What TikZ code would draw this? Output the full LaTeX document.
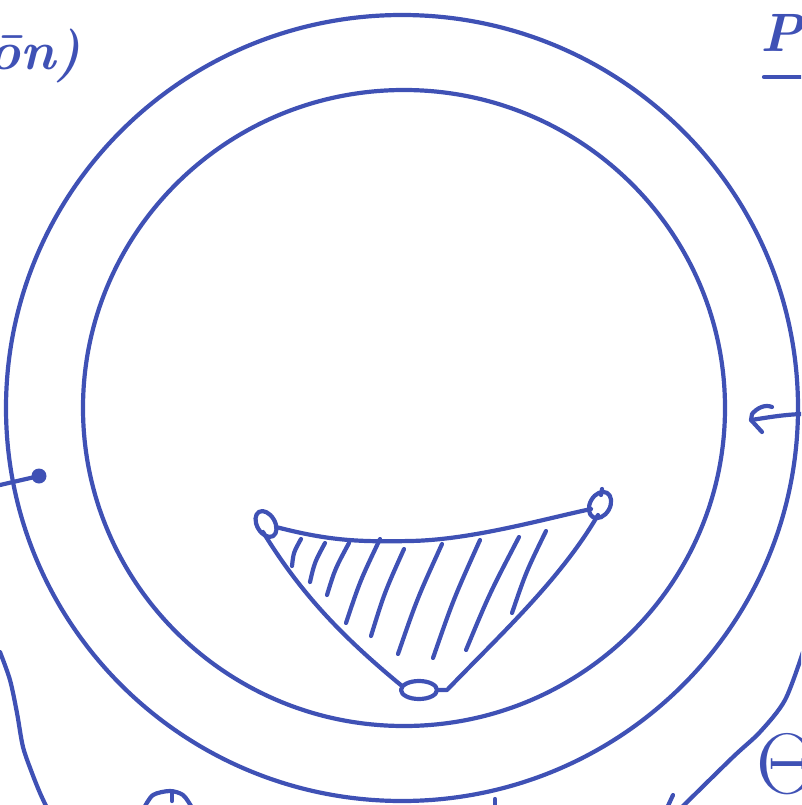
\documentclass[tikz,border=0pt]{standalone}
\definecolor{ink}{RGB}{63,81,181}
\begin{document}
\begin{tikzpicture}[x=1pt,y=-1pt,
  pen/.style={draw=ink, line width=4.2pt, line cap=round, line join=round},
  hand/.style={text=ink, inner sep=0pt, font=\bfseries\itshape\fontsize{54}{60}\selectfont}]
\useasboundingbox (0,0) rectangle (801,805);
\clip (0,0) rectangle (801,805);
% rings
\draw[pen] (402,408) ellipse [x radius=396, y radius=393];
\draw[pen] (404,408) ellipse [x radius=321, y radius=318];
% shaded region
\coordinate (L) at (266,524);
\coordinate (R) at (600,505);
\coordinate (B) at (419,690);
\draw[pen] (L) ellipse [x radius=9, y radius=14, rotate=30];
\draw[pen] (R) ellipse [x radius=10, y radius=14, rotate=-30];
\draw[pen] (B) ellipse [x radius=18, y radius=9];
\draw[pen] (276,527) .. controls (330,541) and (360,542) .. (410,541)
  .. controls (470,540) and (540,520) .. (591,509);
\draw[pen] (263,532) .. controls (300,592) and (340,635) .. (402,686);
\draw[pen] (598,515) .. controls (560,580) and (500,635) .. (447,690) -- (437,690);
\draw[pen] (602,489) -- (601,495);
\foreach \a/\b/\c/\d in {301/539/292/566, 325/543/310/582, 349/543/327/595,
  380/539/346/623, 404/549/371/636, 442/544/398/654, 480/540/433/658,
  519/537/466/650, 546/531/512/613}
  \draw[pen] (\a,\b) .. controls ({(\a+\c)/2-3},{(\b+\d)/2}) .. (\c,\d);
% right arrow
\coordinate (ar) at (801,414);
\coordinate (at) at (751,420);
\draw[pen] (ar) .. controls (780,415) and (765,418) .. (at);
\draw[pen] (772,407) .. controls (765,404) and (757,408) .. (752,414) -- (at) -- (762,432);
% left dot
\coordinate (dot) at (39,476);
\fill[ink] (dot) circle (7.5);
\draw[pen] (dot) -- (0,485);
% bottom left curve
\draw[pen] plot[smooth] coordinates {(0,652) (10,680) (17,713) (23,747) (32,773) (40,793) (47,808)};
% bottom small arc
\draw[pen] plot[smooth] coordinates {(144,808) (153,795) (170,791) (183,795) (191,806)};
\draw[pen] (172,793) -- (172,801);
% bottom centre tick
\draw[pen] (495,799) -- (495,808);
% bottom right strokes
\draw[pen] plot[smooth] coordinates {(803,652) (785,700) (760,732) (733,757) (681,808)};
\draw[pen] (673,795) -- (667,808);
% texts
\node[hand, anchor=base west] (t1) at (-12,70) {ōn)};
\node[hand, anchor=base west] (t2) at (760,52) {Pa};
\draw[pen] (764,77) -- (805,77);
\node[text=ink, inner sep=0pt, anchor=base west, font=\fontsize{86}{90}\selectfont] (t3) at (756,793) {Θ};
\end{tikzpicture}
\end{document}
